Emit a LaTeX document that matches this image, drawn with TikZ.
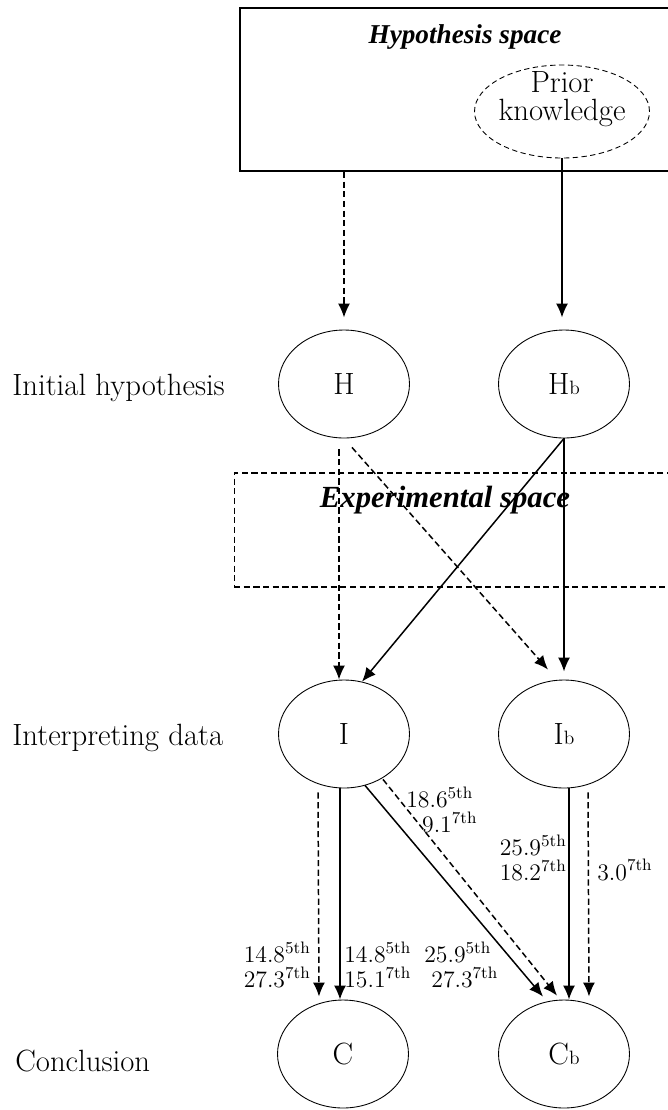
\documentclass[tikz,border=0pt]{standalone}
\usepackage{fontspec}
\newfontfamily\timesfont{Liberation Serif}
\usetikzlibrary{shapes.geometric,arrows.meta,calc}

\begin{document}
\begin{tikzpicture}[
  x=0.02cm, y=-0.02cm,
  state/.style={draw, ellipse, line width=0.5pt, minimum width=2.62cm, minimum height=2.16cm,
    inner sep=0pt, font=\fontsize{17.5}{20}\selectfont},
  level_label/.style={anchor=base west, inner sep=0pt, font=\fontsize{17.5}{20}\selectfont},
  space_box/.style={draw, inner sep=0pt},
  count/.style={inner sep=0pt, font=\fontsize{13.5}{14.5}\selectfont},
  link/.style={line width=0.85pt, -{Latex[length=2.8mm,width=2.4mm]}},
  guess/.style={link, dash pattern=on 3.5pt off 2pt}
  ]
	\useasboundingbox (0,0) rectangle (667,1110);

	% hypothesis space
	\node[space_box, line width=1pt, minimum width=8.64cm, minimum height=3.26cm] (hyp) at (456,89.5) {};
	\node[font=\timesfont\bfseries\itshape\fontsize{15.5}{18}\selectfont] (hyptitle) at (465,37) {Hypothesis space};
	\node[draw, ellipse, line width=0.5pt, dash pattern=on 3pt off 2pt, minimum width=3.5cm, minimum height=1.86cm, inner sep=0pt] (prior) at (562,111.5) {};
	\node[align=center, font=\fontsize{17.5}{16}\selectfont] (priortext) at ($(prior)+(0,-12)$) {Prior\\knowledge};

	% experimental space
	\node[space_box, line width=0.6pt, dash pattern=on 3.5pt off 2pt, minimum width=8.76cm, minimum height=2.28cm] (exp) at (453,530) {};
	\node[font=\timesfont\bfseries\itshape\fontsize{17.5}{20}\selectfont] (exptitle) at (445,500) {Experimental space};

	\node[state] (H) at (344,384) {H};
	\node[state] (Hb) at (564,384) {H{\fontsize{11}{11}\selectfont b}};
	\node[state] (I) at (344,734) {I};
	\node[state] (Ib) at (564,734) {I{\fontsize{11}{11}\selectfont b}};
	\node[state] (C) at (343,1054) {C};
	\node[state] (Cb) at (564,1054) {C{\fontsize{11}{11}\selectfont b}};

	\node[level_label] (initial) at (12,395) {Initial hypothesis};
	\node[level_label] (interp) at (12,745) {Interpreting data};
	\node[level_label] (concl) at (15,1071) {Conclusion};

	\draw[guess, shorten >=0.24cm] (hyp.south -| H.north) -- (H.north);
	\draw[link, shorten >=0.24cm] (prior.south) -- (prior.south |- Hb.north);

	\draw[guess, shorten <=0.22cm] ($(H.south)+(-5,0)$) -- ($(I.north)+(-5,0)$);
	\draw[guess] ($(H.south)+(8,9)$) -- ($(Ib.north)+(-16,-10)$);
	\draw[link] (Hb.south) -- (I.71);
	\draw[link, shorten >=0.16cm] (Hb.south) -- (Ib.north);

	\draw[guess] ($(I.south)+(-26,4)$) -- ($(C.north)+(-24,-3)$);
	\draw[link] ($(I.south)+(-4,0)$) -- ($(C.north)+(-3,0)$);
	\draw[link] ($(I.south)+(21,-3)$) -- ($(Cb.north)+(-21,-3)$);
	\draw[guess] ($(I.south)+(39,-9)$) -- ($(Cb.north)+(-7,-4)$);
	\draw[link] ($(Ib.south)+(5,0)$) -- ($(Cb.north)+(5,0)$);
	\draw[guess] ($(Ib.south)+(24,4)$) -- ($(Cb.north)+(25,-3)$);

	\node[count, anchor=west, align=left] (n1) at (406,810) {18.6\textsuperscript{5th}\\\hspace*{9pt}9.1\textsuperscript{7th}};
	\node[count, anchor=east, align=right] (n2) at (567,858) {25.9\textsuperscript{5th}\\18.2\textsuperscript{7th}};
	\node[count, anchor=west] (n3) at (597,870) {3.0\textsuperscript{7th}};
	\node[count, anchor=east, align=right] (n4) at (311,965) {14.8\textsuperscript{5th}\\27.3\textsuperscript{7th}};
	\node[count, anchor=west, align=left] (n5) at (344,965) {14.8\textsuperscript{5th}\\15.1\textsuperscript{7th}};
	\node[count, anchor=west, align=left] (n6) at (424,965) {25.9\textsuperscript{5th}\\\hspace*{4pt}27.3\textsuperscript{7th}};
\end{tikzpicture}
\end{document}
